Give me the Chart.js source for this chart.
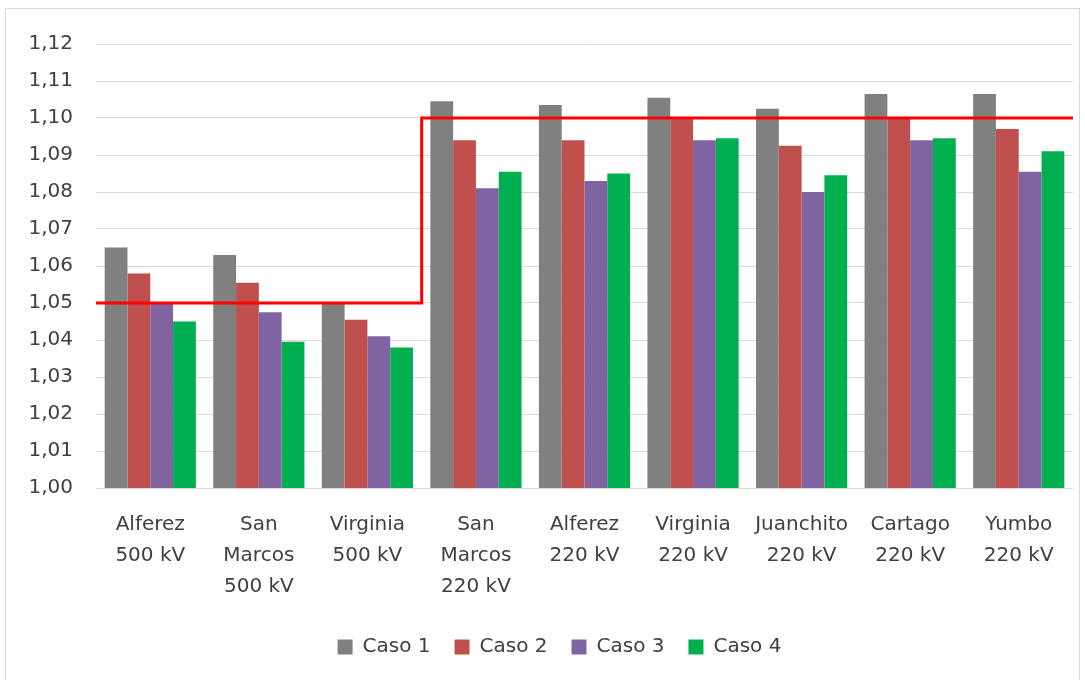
<!DOCTYPE html>
<html>
<head>
<meta charset="utf-8">
<script src="https://cdn.jsdelivr.net/npm/chart.js@4"></script>
<style>
  html, body { margin: 0; padding: 0; background: #fff; overflow: hidden; }
  #box { position: absolute; left: 5px; top: 8px; width: 1073px; height: 680px; border: 1px solid #d9d9d9; }
  #chart { display: block; }
</style>
</head>
<body>
<div id="box"><canvas id="chart" width="1073" height="671"></canvas></div>
<script>
// categories (multi-line labels)
const stations = [
    ['Alferez', '500 kV'],
    ['San', 'Marcos', '500 kV'],
    ['Virginia', '500 kV'],
    ['San', 'Marcos', '220 kV'],
    ['Alferez', '220 kV'],
    ['Virginia', '220 kV'],
    ['Juanchito', '220 kV'],
    ['Cartago', '220 kV'],
    ['Yumbo', '220 kV']
];

// tensión en p.u. por caso
const caso1 = [1.065, 1.063, 1.050, 1.1045, 1.1035, 1.1055, 1.1025, 1.1065, 1.1065];
const caso2 = [1.058, 1.0555, 1.0455, 1.094, 1.094, 1.100, 1.0925, 1.100, 1.097];
const caso3 = [1.050, 1.0475, 1.041, 1.081, 1.083, 1.094, 1.080, 1.094, 1.0855];
const caso4 = [1.045, 1.0395, 1.038, 1.0855, 1.085, 1.0945, 1.0845, 1.0945, 1.091];

// límite de tensión (escalón): bordes en índice de categoría
const limitX = [-0.5, 2.5, 2.5, 8.5];
const limitY = [1.05, 1.05, 1.10, 1.10];

const fontFamily = '"DejaVu Sans", sans-serif';
const textColor = '#404040';

// one x scale (linear over category index) for bars and limit line
const bar = (label, data, color) => ({
    label: label,
    data: data.map((v, i) => ({ x: i, y: v })),
    backgroundColor: color,
    borderWidth: 0,
    categoryPercentage: 0.84,
    barPercentage: 1.0,
    order: 1
});

// nudge the legend a bit to the right, like the original
const legendShift = {
    id: 'legendShift',
    afterLayout(chart) {
        chart.legend.left += 20;
        chart.legend.right += 20;
    }
};

new Chart(document.getElementById('chart').getContext('2d'), {
    type: 'bar',
    data: {
        datasets: [
            bar('Caso 1', caso1, '#808080'),
            bar('Caso 2', caso2, '#c0504d'),
            bar('Caso 3', caso3, '#8064a2'),
            bar('Caso 4', caso4, '#00b050'),
            {
                type: 'line',
                label: 'Límite',
                data: limitX.map((x, i) => ({ x: x, y: limitY[i] })),
                borderColor: '#ff0000',
                borderWidth: 3,
                pointRadius: 0,
                tension: 0,
                fill: false,
                order: 0
            }
        ]
    },
    options: {
        responsive: false,
        animation: false,
        layout: { padding: { top: 12, right: 6, left: 0, bottom: 13 } },
        scales: {
            x: {
                type: 'linear',
                offset: false,
                min: -0.5,
                max: 8.5,
                grid: { display: false },
                border: { display: false },
                // one tick per station
                afterBuildTicks: (scale) => {
                    scale.ticks = stations.map((s, i) => ({ value: i }));
                },
                ticks: {
                    color: textColor,
                    font: { family: fontFamily, size: 20, lineHeight: 1.55 },
                    padding: 13,
                    maxRotation: 0,
                    autoSkip: false,
                    callback: (val) => stations[Math.round(val)] || ''
                },
                afterFit: (scale) => { scale.height = 125; }
            },
            y: {
                min: 1.00,
                max: 1.12,
                grid: { color: '#d9d9d9', lineWidth: 1, drawTicks: false },
                border: { display: false },
                ticks: {
                    stepSize: 0.01,
                    padding: 23,
                    color: textColor,
                    font: { family: fontFamily, size: 20 },
                    callback: (val) => Number(val).toFixed(2).replace('.', ',')
                },
                afterFit: (scale) => { scale.width = 90; }
            }
        },
        plugins: {
            legend: {
                position: 'bottom',
                labels: {
                    color: textColor,
                    font: { family: fontFamily, size: 20 },
                    boxWidth: 15,
                    boxHeight: 15,
                    padding: 24,
                    filter: (item) => item.datasetIndex < 4
                }
            },
            tooltip: { enabled: false }
        }
    },
    plugins: [legendShift]
});
</script>
</body>
</html>
